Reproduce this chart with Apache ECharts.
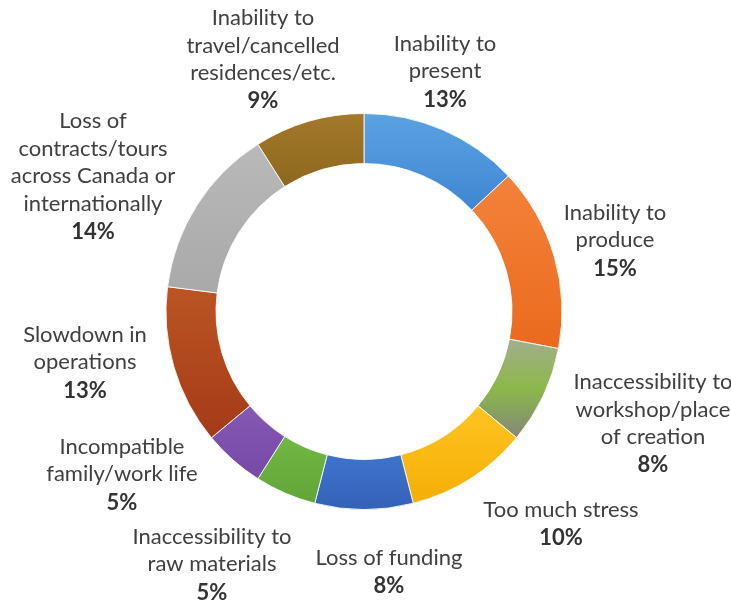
<!DOCTYPE html>
<html>
<head>
<meta charset="utf-8">
<script src="https://cdn.jsdelivr.net/npm/echarts@6/dist/echarts.min.js"></script>
<style>
  html, body { margin: 0; padding: 0; background: #ffffff; }
  #chart { width: 731px; height: 606px; }
</style>
</head>
<body>
<div id="chart"></div>
<script>
// Reasons reported, clockwise from 12 o'clock
var categories = [
  'Inability to\npresent',
  'Inability to\nproduce',
  'Inaccessibility to\nworkshop/place\nof creation',
  'Too much stress',
  'Loss of funding',
  'Inaccessibility to\nraw materials',
  'Incompatible\nfamily/work life',
  'Slowdown in\noperations',
  'Loss of\ncontracts/tours\nacross Canada or\ninternationally',
  'Inability to\ntravel/cancelled\nresidences/etc.'
];

// Share of respondents, in percent
var shares = [13, 15, 8, 10, 8, 5, 5, 13, 14, 9];

// Slice fills: [light stop, dark stop] (the workshop slice has three stops)
var sliceColors = [
  ['#5ba2e2', '#3f86d3'],
  ['#f4823a', '#ea6a1e'],
  ['#a3ad8d', '#8cb84a', '#84867a'],
  ['#ffc421', '#f5ae05'],
  ['#3f74cc', '#3461b8'],
  ['#72b743', '#62a538'],
  ['#8458b3', '#7549a5'],
  ['#bb5522', '#a53a19'],
  ['#b9b9b9', '#a9a9a9'],
  ['#a37929', '#8e6820']
];

// Centre of each label block on the page
var labelAt = [
  [445, 72], [615, 241], [653, 424], [561, 524], [389, 572],
  [212, 565], [122, 475], [85, 363], [93, 177], [263, 60]
];

function fillFor(stops) {
  var list = stops.map(function (c, i) {
    return { offset: i / (stops.length - 1), color: c };
  });
  return new echarts.graphic.LinearGradient(0, 0, 0, 1, list);
}

var data = categories.map(function (name, i) {
  return {
    name: name,
    value: shares[i],
    itemStyle: { color: fillFor(sliceColors[i]) }
  };
});

var chart = echarts.init(document.getElementById('chart'), null, { renderer: 'canvas' });

chart.setOption({
  backgroundColor: '#ffffff',
  animation: false,
  series: [{
    type: 'pie',
    center: [364, 311.5],
    radius: [148, 198],
    startAngle: 90,
    clockwise: true,
    avoidLabelOverlap: false,
    itemStyle: { borderColor: 'rgba(255,255,255,0.85)', borderWidth: 1 },
    label: {
      show: true,
      position: 'outside',
      formatter: function (p) {
        return '{n|' + p.name + '}\n{p|' + p.value + '%}';
      },
      rich: {
        n: {
          fontFamily: 'Lato, "Open Sans", sans-serif',
          fontSize: 22,
          color: '#404040',
          lineHeight: 27.5,
          align: 'center'
        },
        p: {
          fontFamily: 'Lato, "Open Sans", sans-serif',
          fontSize: 22,
          fontWeight: 'bold',
          color: '#333333',
          lineHeight: 29,
          align: 'center'
        }
      }
    },
    labelLine: { show: false },
    labelLayout: function (params) {
      var pos = labelAt[params.dataIndex];
      return { x: pos[0], y: pos[1], align: 'center', verticalAlign: 'middle' };
    },
    emphasis: { disabled: true },
    data: data
  }]
});
</script>
</body>
</html>
